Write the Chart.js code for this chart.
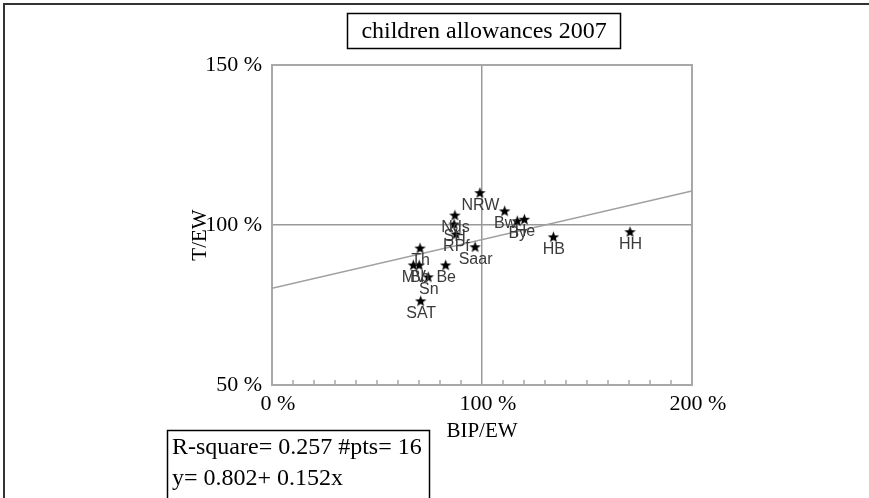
<!DOCTYPE html>
<html>
<head>
<meta charset="utf-8">
<script src="https://cdn.jsdelivr.net/npm/chart.js@4/dist/chart.umd.min.js"></script>
<style>
  body { margin: 0; background: #fff; }
  canvas { display: block; }
</style>
</head>
<body>
<canvas id="chart" width="869" height="498"></canvas>
<script>
// states and their values (percent of German average)
const states = ["NRW", "Bw", "By", "He", "HB", "HH", "Nds", "SH", "RPf", "Saar", "Th", "MV", "Bb", "Sn", "Be", "SAT"];
const bipEw = [99.0, 110.8, 116.8, 120.2, 134.0, 170.5, 87.1, 86.7, 87.6, 96.7, 70.5, 67.3, 70.1, 74.4, 82.7, 70.8];
const tEw = [110.1, 104.4, 101.3, 101.8, 96.3, 97.9, 103.1, 100.3, 97.2, 93.2, 92.8, 87.5, 87.5, 83.8, 87.5, 76.3];

// fitted line, read at both ends of the x axis
const fitX = [0, 200];
const fitY = [80.2, 110.6];

const xTickLabels = [0, 100, 200];
const yTickLabels = [50, 100, 150];

const titleText = "children allowances 2007";
const statsLines = ["R-square= 0.257 #pts= 16", "y= 0.802+ 0.152x"];

const serif = "'Liberation Serif', 'DejaVu Serif', serif";

// filled 5 point star used as marker
function makeStar(size) {
  const c = document.createElement("canvas");
  c.width = size; c.height = size;
  const g = c.getContext("2d");
  const cx = size / 2, cy = size / 2 + 0.5;
  const ro = size / 2 - 0.5, ri = ro * 0.42;
  g.beginPath();
  for (let i = 0; i < 10; i++) {
    const r = i % 2 === 0 ? ro : ri;
    const a = -Math.PI / 2 + i * Math.PI / 5;
    const px = cx + r * Math.cos(a), py = cy + r * Math.sin(a);
    if (i === 0) g.moveTo(px, py); else g.lineTo(px, py);
  }
  g.closePath();
  g.fillStyle = "#000";
  g.fill();
  return c;
}
const star = makeStar(13);

const decor = {
  id: "decor",
  beforeDraw(chart) {
    const ctx = chart.ctx;
    ctx.save();
    // outer figure border (top and left)
    ctx.strokeStyle = "#333";
    ctx.lineWidth = 2;
    ctx.beginPath();
    ctx.moveTo(4, 498);
    ctx.lineTo(4, 4);
    ctx.lineTo(869, 4);
    ctx.stroke();

    // title box
    ctx.lineWidth = 1.5;
    ctx.strokeStyle = "#000";
    ctx.strokeRect(347.5, 13.5, 273, 35);
    ctx.fillStyle = "#000";
    ctx.font = "24px " + serif;
    ctx.textAlign = "center";
    ctx.textBaseline = "middle";
    ctx.fillText(titleText, 484, 32);
    ctx.restore();
  },
  beforeDatasetsDraw(chart) {
    const ctx = chart.ctx;
    const a = chart.chartArea;
    const xs = chart.scales.x;
    ctx.save();
    ctx.strokeStyle = "#a8a8a8";
    ctx.lineWidth = 2;
    ctx.strokeRect(a.left, a.top, a.right - a.left, a.bottom - a.top);
    // small inner ticks on the x axis
    ctx.lineWidth = 1.5;
    ctx.beginPath();
    xs.ticks.forEach(t => {
      if (t.value % 100 === 0) return;
      const px = xs.getPixelForValue(t.value);
      ctx.moveTo(px, a.bottom);
      ctx.lineTo(px, a.bottom - 5);
    });
    ctx.stroke();
    ctx.restore();
  },
  afterDatasetsDraw(chart) {
    const ctx = chart.ctx;
    ctx.save();
    // point labels under each star
    const meta = chart.getDatasetMeta(0);
    ctx.fillStyle = "#3a3a3a";
    ctx.font = "16px 'Liberation Sans', Arial, sans-serif";
    ctx.textAlign = "center";
    ctx.textBaseline = "middle";
    meta.data.forEach((pt, i) => {
      ctx.fillText(states[i], pt.x + 0.5, pt.y + 12.5);
    });

    // axis titles
    ctx.fillStyle = "#000";
    ctx.font = "21px " + serif;
    ctx.fillText("BIP/EW", 482, 431);
    ctx.save();
    ctx.translate(200, 235);
    ctx.rotate(-Math.PI / 2);
    ctx.fillText("T/EW", 0, 0);
    ctx.restore();

    // statistics box
    ctx.strokeStyle = "#000";
    ctx.lineWidth = 1.5;
    ctx.strokeRect(167.5, 430.5, 262, 80);
    ctx.font = "24px " + serif;
    ctx.textAlign = "left";
    ctx.fillText(statsLines[0], 172, 448);
    ctx.fillText(statsLines[1], 172, 479);
    ctx.restore();
  }
};

new Chart(document.getElementById("chart"), {
  type: "scatter",
  data: {
    datasets: [
      {
        data: states.map((s, i) => ({ x: bipEw[i], y: tEw[i] })),
        pointStyle: star,
        pointRadius: 6,
        order: 1
      },
      {
        type: "line",
        data: fitX.map((x, i) => ({ x: x, y: fitY[i] })),
        borderColor: "#a0a0a0",
        borderWidth: 1.5,
        pointRadius: 0,
        order: 2
      }
    ]
  },
  options: {
    responsive: false,
    animation: false,
    layout: { padding: { left: 0, right: 177, top: 65, bottom: 0 } },
    plugins: { legend: { display: false }, tooltip: { enabled: false } },
    scales: {
      x: {
        type: "linear",
        min: 0, max: 200,
        afterFit: s => { s.height = 113; },
        border: { display: false },
        grid: {
          color: c => c.tick && c.tick.value === 100 ? "#999" : "transparent",
          lineWidth: 1.5,
          drawTicks: false
        },
        ticks: {
          stepSize: 10,
          autoSkip: false,
          maxRotation: 0,
          padding: 6,
          labelOffset: 6,
          color: "#000",
          font: { family: serif, size: 22 },
          callback: v => xTickLabels.includes(v) ? v + " %" : ""
        }
      },
      y: {
        type: "linear",
        min: 50, max: 150,
        afterFit: s => { s.width = 272; },
        border: { display: false },
        grid: {
          color: c => c.tick && c.tick.value === 100 ? "#999" : "transparent",
          lineWidth: 1.5,
          drawTicks: false
        },
        ticks: {
          stepSize: 50,
          padding: 10,
          labelOffset: 0,
          color: "#000",
          font: { family: serif, size: 22 },
          callback: v => yTickLabels.includes(v) ? v + " %" : ""
        }
      }
    }
  },
  plugins: [decor]
});
</script>
</body>
</html>
